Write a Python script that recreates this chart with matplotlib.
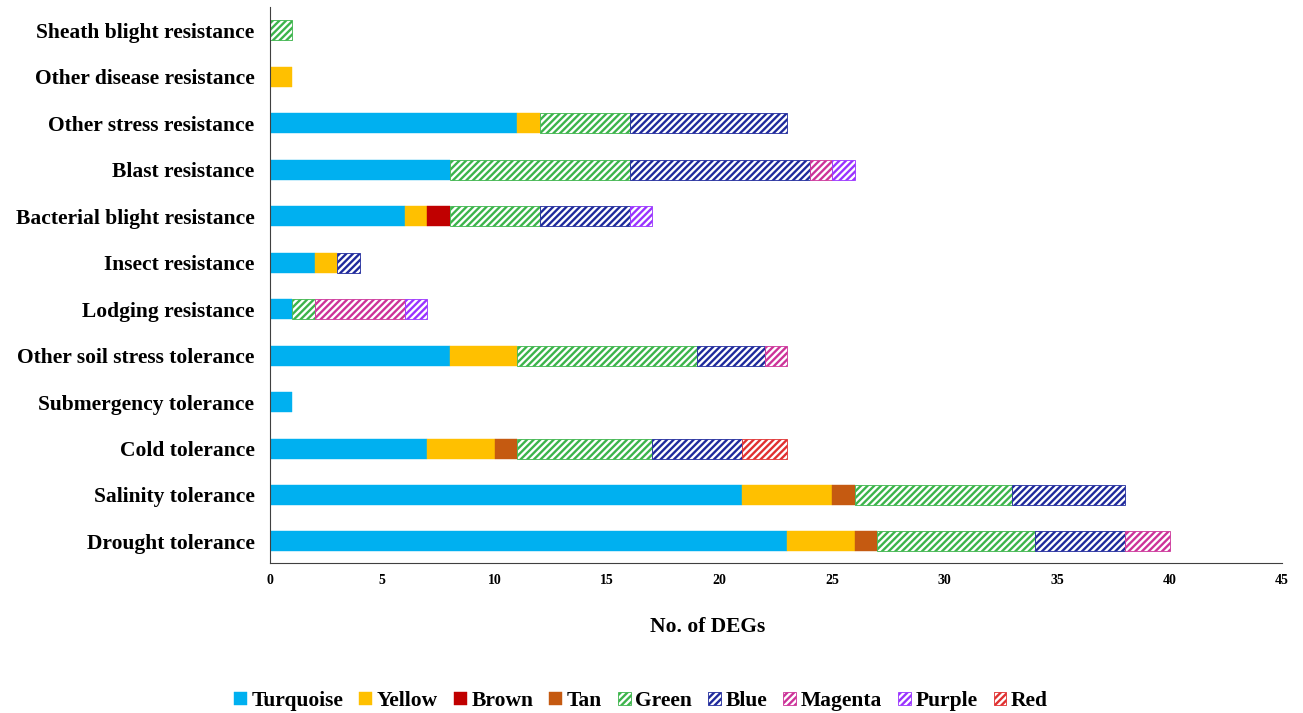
import numpy as np
import matplotlib
matplotlib.use('Agg')
import matplotlib.pyplot as plt

# traits, bottom to top
traits = ['Drought tolerance', 'Salinity tolerance', 'Cold tolerance',
          'Submergency tolerance', 'Other soil stress tolerance',
          'Lodging resistance', 'Insect resistance',
          'Bacterial blight resistance', 'Blast resistance',
          'Other stress resistance', 'Other disease resistance',
          'Sheath blight resistance']

modules = ['Turquoise', 'Yellow', 'Brown', 'Tan', 'Green', 'Blue',
           'Magenta', 'Purple', 'Red']

turquoise = [23, 21, 7, 1, 8, 1, 2, 6, 8, 11, 0, 0]
yellow    = [3, 4, 3, 0, 3, 0, 1, 1, 0, 1, 1, 0]
brown     = [0, 0, 0, 0, 0, 0, 0, 1, 0, 0, 0, 0]
tan       = [1, 1, 1, 0, 0, 0, 0, 0, 0, 0, 0, 0]
green     = [7, 7, 6, 0, 8, 1, 0, 4, 8, 4, 0, 1]
blue      = [4, 5, 4, 0, 3, 0, 1, 4, 8, 7, 0, 0]
magenta   = [2, 0, 0, 0, 1, 4, 0, 0, 1, 0, 0, 0]
purple    = [0, 0, 0, 0, 0, 1, 0, 1, 1, 0, 0, 0]
red       = [0, 0, 2, 0, 0, 0, 0, 0, 0, 0, 0, 0]

series = [turquoise, yellow, brown, tan, green, blue, magenta, purple, red]
colors = ['#00B0F0', '#FFC000', '#C00000', '#C55A11', '#3CB44B',
          '#1F2A9C', '#CC3399', '#9933FF', '#E03030']
hatched = [False, False, False, False, True, True, True, True, True]

plt.rcParams['font.family'] = ['Liberation Serif', 'DejaVu Serif']
plt.rcParams['font.weight'] = 'bold'
plt.rcParams['hatch.linewidth'] = 1.7

fig = plt.figure(figsize=(13.03, 7.13), dpi=100)
ax = fig.add_axes([0.207, 0.210, 0.777, 0.780])

y = np.arange(len(traits))
left = np.zeros(len(traits))
for name, vals, c, h in zip(modules, series, colors, hatched):
    vals = np.array(vals, dtype=float)
    m = vals > 0   # skip empty segments so no stray edges are drawn
    if h:
        ax.barh(y[m], vals[m], left=left[m], height=0.43, color='white',
                edgecolor=c, hatch='/////', linewidth=0.6, label=name)
    else:
        ax.barh(y[m], vals[m], left=left[m], height=0.43, color=c,
                edgecolor=c, linewidth=0.3, label=name)
    left += vals

ax.set_xlim(0, 45)
ax.set_ylim(-0.47, 11.5)
ax.set_xticks(np.arange(0, 46, 5))
ax.set_yticks(y)
ax.set_yticklabels(traits, fontsize=15.5, fontweight='bold')
ax.tick_params(axis='y', length=0, pad=11)
ax.tick_params(axis='x', length=0, labelsize=10, pad=8)
for lab in ax.get_xticklabels():
    lab.set_fontweight('bold')
ax.spines['top'].set_visible(False)
ax.spines['right'].set_visible(False)
ax.spines['left'].set_color('#404040')
ax.spines['bottom'].set_color('#404040')

fig.text(708 / 1303, 1 - 627 / 713, 'No. of DEGs', fontsize=15.5,
         fontweight='bold', ha='center', va='center')

fig.legend(loc='center', ncol=9, frameon=False, fontsize=15.5,
           bbox_to_anchor=(641 / 1303, 1 - 701 / 713), handlelength=0.6,
           handleheight=0.6, handletextpad=0.2, columnspacing=0.75)

fig.savefig('out.png', dpi=100)
